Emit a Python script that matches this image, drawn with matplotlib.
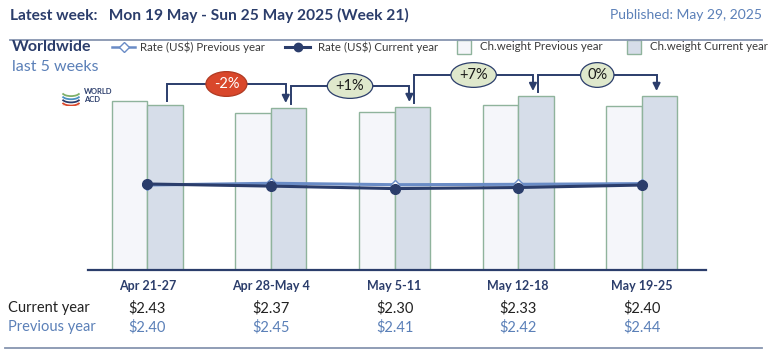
import matplotlib
matplotlib.use("Agg")
import matplotlib.pyplot as plt
from matplotlib.lines import Line2D
from matplotlib.patches import Rectangle, Arc
import numpy as np

plt.rcParams['font.family'] = ['Lato', 'DejaVu Sans']

# ---- data ----
weeks = ["Apr 21-27", "Apr 28-May 4", "May 5-11", "May 12-18", "May 19-25"]
weight_prev = [169, 157, 158, 165, 164]      # chargeable weight index (relative)
weight_curr = [165, 162, 163, 174, 174]
rate_curr = [2.43, 2.37, 2.30, 2.33, 2.40]
rate_prev = [2.40, 2.45, 2.41, 2.42, 2.44]
changes = ["-2%", "+1%", "+7%", "0%"]
change_colors = ["#d9472b", "#dfe8cc", "#dfe8cc", "#dfe8cc"]
change_text_colors = ["white", "#1a1a1a", "#1a1a1a", "#1a1a1a"]

NAVY = "#2b3d6b"
LBLUE = "#5b80b8"
EDGE = "#8fb39c"
PREV_FILL = "#f5f6fa"
CURR_FILL = "#d6dde9"

W, H = 770, 358
fig = plt.figure(figsize=(W / 100, H / 100), dpi=100)

def fx(x): return x / W
def fy(y): return 1 - y / H

ax = fig.add_axes([fx(88), fy(270), fx(706) - fx(88), fy(70) - fy(270)])
ax2 = ax.twinx()

x = np.arange(len(weeks))
bw = 0.2875
ax.bar(x - bw / 2, weight_prev, width=bw, color=PREV_FILL, edgecolor=EDGE, linewidth=1.0)
ax.bar(x + bw / 2, weight_curr, width=bw, color=CURR_FILL, edgecolor=EDGE, linewidth=1.0)
ax.set_xlim(-0.48, 4.52)
ax.set_ylim(0, 200)

ax2.plot(x, rate_prev, color="#6a8cc6", linewidth=2.2, marker="D", markersize=5.5,
         markerfacecolor="white", markeredgecolor="#6a8cc6", zorder=3)
ax2.plot(x, rate_curr, color=NAVY, linewidth=2.2, marker="o", markersize=7,
         markerfacecolor=NAVY, markeredgecolor=NAVY, zorder=4)
ax2.set_ylim(0, 200 / 35.4)

for a in (ax, ax2):
    for s in ("top", "right", "left"):
        a.spines[s].set_visible(False)
    a.set_yticks([])
ax.spines["bottom"].set_color(NAVY)
ax.spines["bottom"].set_linewidth(1.6)
ax2.spines["bottom"].set_visible(False)
ax.set_xticks(x)
ax.set_xticklabels(weeks, fontsize=9, fontweight="bold", color=NAVY)
ax.tick_params(axis="x", length=0, pad=7)

# change brackets
for i in range(len(changes)):
    h1, h2 = weight_curr[i], weight_curr[i + 1]
    top = max(h1, h2) + 21
    xs, xe = i + 0.16, i + 1 + 0.12
    ax.plot([xs, xs, xe, xe], [h1 + 4, top, top, h2 + 11], color=NAVY, lw=1.4,
            clip_on=False, solid_joinstyle="miter")
    ax.annotate("", xy=(xe, h2 + 5), xytext=(xe, h2 + 12),
                arrowprops=dict(arrowstyle="-|>", color=NAVY, lw=1.4,
                                mutation_scale=11, shrinkA=0, shrinkB=0),
                annotation_clip=False)
    ax.text((xs + xe) / 2, top, changes[i], ha="center", va="center", fontsize=10.5,
            color=change_text_colors[i], clip_on=False,
            bbox=dict(boxstyle="ellipse,pad=0.12", facecolor=change_colors[i],
                      edgecolor=NAVY if i > 0 else "#b03a22", linewidth=0.9))

# header
fig.text(fx(10), fy(15), "Latest week:   Mon 19 May - Sun 25 May 2025 (Week 21)",
         fontsize=11.2, fontweight="bold", color=NAVY, va="center", ha="left")
fig.text(fx(762), fy(15), "Published: May 29, 2025", fontsize=10, color=LBLUE,
         va="center", ha="right")
fig.add_artist(Line2D([fx(10), fx(762)], [fy(40), fy(40)], color="#8795b0", lw=1.3))
fig.add_artist(Line2D([fx(5), fx(762)], [fy(348), fy(348)], color="#8795b0", lw=1.3))

fig.text(fx(12), fy(47), "Worldwide", fontsize=11.5, fontweight="bold", color=NAVY,
         va="center", ha="left")
fig.text(fx(12), fy(67), "last 5 weeks", fontsize=11.5, color=LBLUE, va="center", ha="left")

# legend
ly = fy(47)
LFS = 8.3
fig.add_artist(Line2D([fx(112), fx(135)], [ly, ly], color="#6a8cc6", lw=1.8))
fig.add_artist(Line2D([fx(123.5)], [ly], color="#6a8cc6", marker="D", markersize=5.5,
                      markerfacecolor="white", markeredgecolor="#6a8cc6", lw=0))
fig.text(fx(140), ly, "Rate (US$) Previous year", fontsize=LFS, color="#3a3a3a", va="center")
fig.add_artist(Line2D([fx(285), fx(310)], [ly, ly], color=NAVY, lw=2.2))
fig.add_artist(Line2D([fx(297.5)], [ly], color=NAVY, marker="o", markersize=6, lw=0))
fig.text(fx(318), ly, "Rate (US$) Current year", fontsize=LFS, color="#3a3a3a", va="center")
fig.add_artist(Rectangle((fx(457), fy(54)), fx(14), fy(40) - fy(54), facecolor=PREV_FILL,
                         edgecolor=EDGE, lw=1.0))
fig.text(fx(480), ly, "Ch.weight Previous year", fontsize=LFS, color="#3a3a3a", va="center")
fig.add_artist(Rectangle((fx(627), fy(54)), fx(14), fy(40) - fy(54), facecolor=CURR_FILL,
                         edgecolor=EDGE, lw=1.0))
fig.text(fx(650), ly, "Ch.weight Current year", fontsize=LFS, color="#3a3a3a", va="center")

# logo
lax = fig.add_axes([fx(60), fy(106), fx(20), fy(88) - fy(106)])
lax.set_xlim(-1, 1); lax.set_ylim(-1, 1); lax.axis("off")
for k, c in enumerate(["#7fb069", "#4a90c2", "#2b3d6b", "#d9472b", "#e79a6a"]):
    lax.add_patch(Arc((0.1, 0.55 - k * 0.35), 1.8, 0.9, theta1=190, theta2=350, color=c, lw=1.3))
fig.text(fx(84), fy(91), "WORLD", fontsize=5.5, fontweight="bold", color=NAVY, va="center")
fig.text(fx(84), fy(99), "ACD", fontsize=5.5, fontweight="bold", color=NAVY, va="center")

# table below
fig.text(fx(8), fy(308), "Current year", fontsize=10.5, color="#222222", va="center")
fig.text(fx(8), fy(327), "Previous year", fontsize=10.5, color=LBLUE, va="center")
for i in range(len(weeks)):
    xp = ax.transData.transform((x[i], 0))[0] / fig.dpi / fig.get_figwidth()
    fig.text(xp, fy(308), f"${rate_curr[i]:.2f}", fontsize=10.5, color="#222222",
             ha="center", va="center")
    fig.text(xp, fy(327), f"${rate_prev[i]:.2f}", fontsize=10.5, color=LBLUE,
             ha="center", va="center")

fig.savefig("out.png", dpi=100)
